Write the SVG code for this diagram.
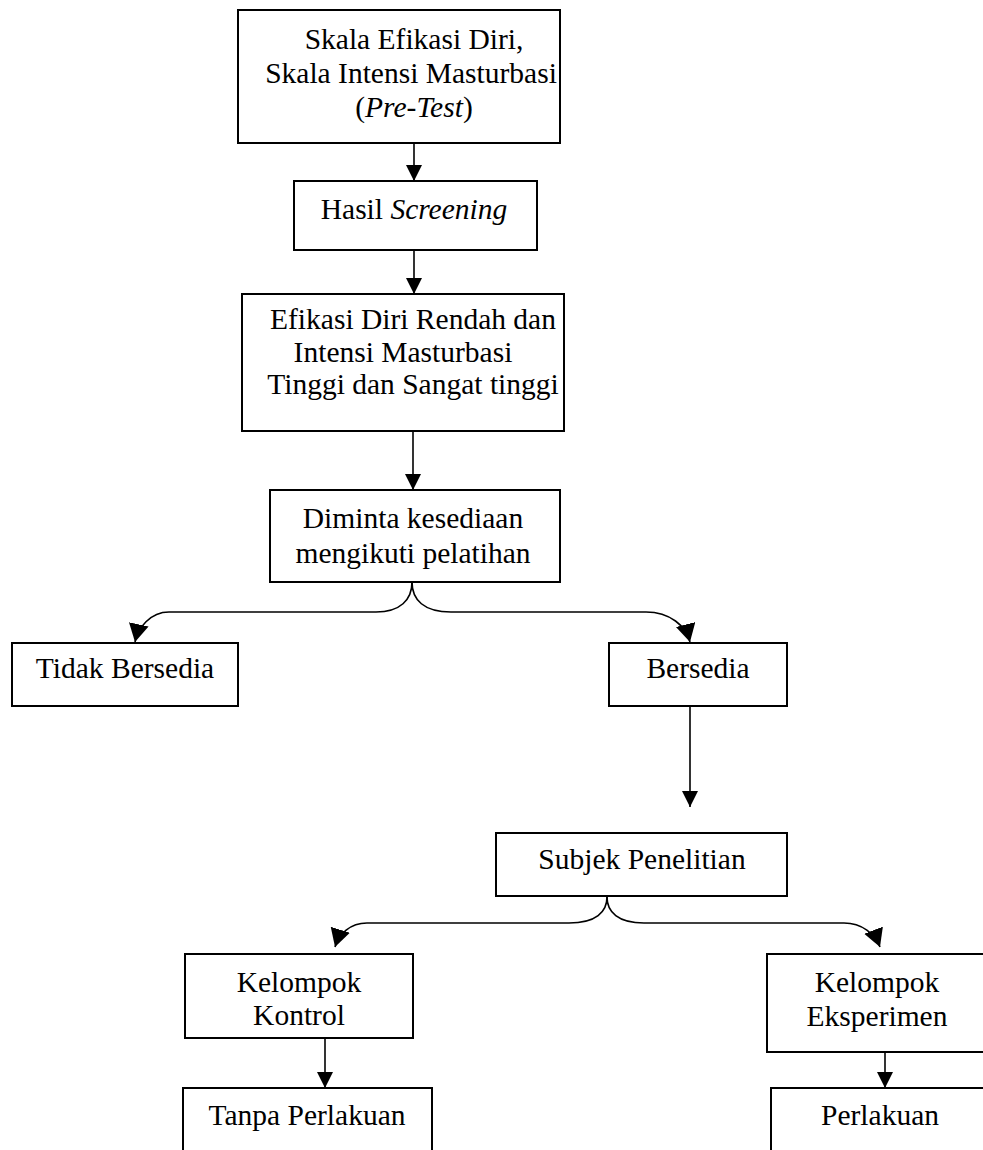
<svg xmlns="http://www.w3.org/2000/svg" width="983" height="1150" viewBox="0 0 983 1150">
<style>
.box{fill:#fff;stroke:#000;stroke-width:2}
.t{font-family:"Liberation Serif","Times New Roman",serif;font-size:29.5px;fill:#000;text-anchor:middle}
.c{fill:none;stroke:#000;stroke-width:1.6}
</style>
<defs>
<marker id="ah" markerUnits="userSpaceOnUse" markerWidth="18" markerHeight="18" refX="16" refY="8" orient="auto">
<path d="M0,0 L16,8 L0,16 z" fill="#000"/>
</marker>
<marker id="ahc" markerUnits="userSpaceOnUse" markerWidth="22" markerHeight="22" refX="18" refY="10" orient="auto">
<path d="M0,0 L18,10 L0,20 z" fill="#000"/>
</marker>
</defs>
<rect width="983" height="1150" fill="#fff"/>
<g id="connectors">
<line class="c" x1="414" y1="143" x2="414" y2="181" marker-end="url(#ah)"/>
<line class="c" x1="414" y1="250" x2="414" y2="294" marker-end="url(#ah)"/>
<line class="c" x1="413" y1="431" x2="413" y2="490" marker-end="url(#ah)"/>
<path class="c" d="M412,582 C412,600 400,612 376,612 L169,612 C150,612 138,628 135,642" marker-end="url(#ahc)"/>
<path class="c" d="M412,582 C412,600 424,612 451,612 L646,612 C670,612 686,626 690,642" marker-end="url(#ahc)"/>
<line class="c" x1="690" y1="705" x2="690" y2="807" marker-end="url(#ah)"/>
<path class="c" d="M607,897 C607,912 596,923 569,923 L367,923 C350,923 339,934 335,947" marker-end="url(#ahc)"/>
<path class="c" d="M607,897 C607,912 618,923 644,923 L844,923 C862,923 875,934 880,947" marker-end="url(#ahc)"/>
<line class="c" x1="325" y1="1038" x2="325" y2="1088" marker-end="url(#ah)"/>
<line class="c" x1="885" y1="1052" x2="885" y2="1088" marker-end="url(#ah)"/>
</g>
<g id="n1">
<rect class="box" x="238" y="10" width="322" height="133"/>
<text class="t" x="414" y="49">Skala Efikasi Diri,</text>
<text class="t" x="411" y="83">Skala Intensi Masturbasi</text>
<text class="t" x="414" y="117">(<tspan font-style="italic">Pre-Test</tspan>)</text>
</g>
<g id="n2">
<rect class="box" x="294" y="181" width="243" height="69"/>
<text class="t" x="414" y="219">Hasil <tspan font-style="italic">Screening</tspan></text>
</g>
<g id="n3">
<rect class="box" x="242" y="294" width="322" height="137"/>
<text class="t" x="413" y="329">Efikasi Diri Rendah dan</text>
<text class="t" x="403" y="362">Intensi Masturbasi</text>
<text class="t" x="413" y="394">Tinggi dan Sangat tinggi</text>
</g>
<g id="n4">
<rect class="box" x="270" y="490" width="290" height="92"/>
<text class="t" x="413" y="528">Diminta kesediaan</text>
<text class="t" x="413" y="563">mengikuti pelatihan</text>
</g>
<g id="n5">
<rect class="box" x="12" y="643" width="226" height="63"/>
<text class="t" x="125" y="678">Tidak Bersedia</text>
</g>
<g id="n6">
<rect class="box" x="609" y="643" width="178" height="63"/>
<text class="t" x="698" y="678">Bersedia</text>
</g>
<g id="n7">
<rect class="box" x="496" y="833" width="291" height="63"/>
<text class="t" x="642" y="869">Subjek Penelitian</text>
</g>
<g id="n8">
<rect class="box" x="185" y="954" width="228" height="84"/>
<text class="t" x="299" y="992">Kelompok</text>
<text class="t" x="299" y="1025">Kontrol</text>
</g>
<g id="n9">
<rect class="box" x="767" y="954" width="230" height="98"/>
<text class="t" x="877" y="992">Kelompok</text>
<text class="t" x="877" y="1026">Eksperimen</text>
</g>
<g id="n10">
<rect class="box" x="183" y="1088" width="249" height="80"/>
<text class="t" x="307" y="1125">Tanpa Perlakuan</text>
</g>
<g id="n11">
<rect class="box" x="771" y="1088" width="226" height="80"/>
<text class="t" x="880" y="1125">Perlakuan</text>
</g>
</svg>
